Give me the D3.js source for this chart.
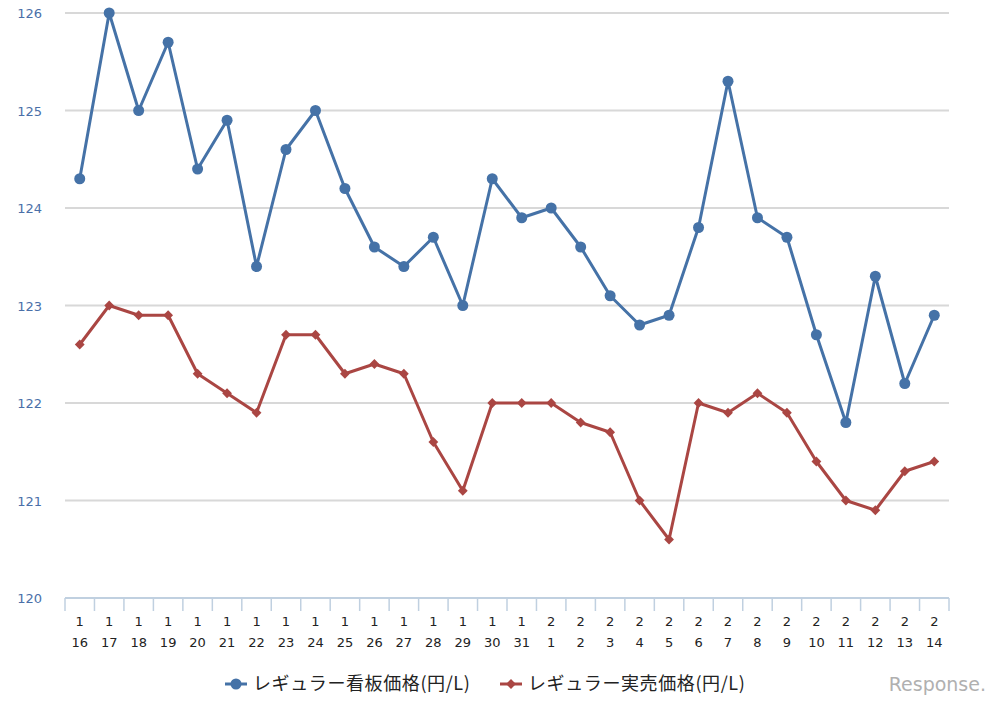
<!DOCTYPE html>
<html><head><meta charset="utf-8">
<script src="https://cdn.jsdelivr.net/npm/d3@7"></script>
<style>body{margin:0;background:#fff;}svg{display:block;}</style>
</head><body>
<svg id="chart" width="999" height="704"></svg>
<script>
const monthLabels = ["1","1","1","1","1","1","1","1","1","1","1","1","1","1","1","1","2","2","2","2","2","2","2","2","2","2","2","2","2","2"];
const dayLabels = ["16","17","18","19","20","21","22","23","24","25","26","27","28","29","30","31","1","2","3","4","5","6","7","8","9","10","11","12","13","14"];
const signPrice = [124.3,126.0,125.0,125.7,124.4,124.9,123.4,124.6,125.0,124.2,123.6,123.4,123.7,123.0,124.3,123.9,124.0,123.6,123.1,122.8,122.9,123.8,125.3,123.9,123.7,122.7,121.8,123.3,122.2,122.9];
const actualPrice = [122.6,123.0,122.9,122.9,122.3,122.1,121.9,122.7,122.7,122.3,122.4,122.3,121.6,121.1,122.0,122.0,122.0,121.8,121.7,121.0,120.6,122.0,121.9,122.1,121.9,121.4,121.0,120.9,121.3,121.4];
const yTicks = [120,121,122,123,124,125,126];
const seriesNames = ["レギュラー看板価格(円/L)","レギュラー実売価格(円/L)"];
const colors = ["#4572a7","#aa4643"];

(function(){
const svg = d3.select("#chart");
const pL = 65, pR = 949, pT = 13, pB = 598;
const idx = d3.range(dayLabels.length);
const x = d3.scaleBand().domain(idx).range([pL, pR]);
const y = d3.scaleLinear().domain([120,126]).range([pB, pT]);
const font = "'Noto Sans CJK JP','Noto Sans',sans-serif";
const numFont = "'DejaVu Sans', sans-serif";

svg.append("g").selectAll("line").data(yTicks.filter(d=>d>120)).join("line")
  .attr("x1", pL).attr("x2", pR)
  .attr("y1", d=>y(d)).attr("y2", d=>y(d))
  .attr("stroke", "#d8d8d8").attr("stroke-width", 2);

svg.append("g").selectAll("text").data(yTicks).join("text")
  .attr("x", 42).attr("y", d=>y(d)+5)
  .attr("text-anchor","end").attr("fill","#4a6fa8")
  .attr("font-family",numFont).attr("font-size",13)
  .text(d=>d);

svg.append("line").attr("x1",pL).attr("x2",pR).attr("y1",pB).attr("y2",pB)
  .attr("stroke","#c0d0e0").attr("stroke-width",2);
const bounds = idx.map(i=>x(i)).concat([pR]);
svg.append("g").selectAll("line").data(bounds).join("line")
  .attr("x1",d=>d).attr("x2",d=>d).attr("y1",pB).attr("y2",pB+13)
  .attr("stroke","#c0d0e0").attr("stroke-width",1.5);
const xl = svg.append("g").selectAll("g").data(idx).join("g")
  .attr("transform", i=>`translate(${x(i)+x.bandwidth()/2},0)`);
xl.append("text").attr("y",626).attr("text-anchor","middle")
  .attr("font-family",numFont).attr("font-size",13).attr("fill","#222")
  .text(i=>monthLabels[i]);
xl.append("text").attr("y",647).attr("text-anchor","middle")
  .attr("font-family",numFont).attr("font-size",13).attr("fill","#222")
  .text(i=>dayLabels[i]);

const cx = i => x(i)+x.bandwidth()/2;
const line = d3.line().x((d,i)=>cx(i)).y(d=>y(d));
[signPrice, actualPrice].forEach((data,k)=>{
  svg.append("path").datum(data).attr("d",line).attr("fill","none")
    .attr("stroke",colors[k]).attr("stroke-width",3).attr("stroke-linejoin","round");
});
svg.append("g").selectAll("circle").data(signPrice).join("circle")
  .attr("cx",(d,i)=>cx(i)).attr("cy",d=>y(d)).attr("r",5.5).attr("fill",colors[0]);
const sq = d3.symbol().type(d3.symbolSquare).size(48)();
svg.append("g").selectAll("path").data(actualPrice).join("path")
  .attr("d", sq).attr("transform",(d,i)=>`translate(${cx(i)},${y(d)}) rotate(45)`)
  .attr("fill",colors[1]);

const lg = svg.append("g");
const lx = [225, 500];
lx.forEach((px,k)=>{
  lg.append("line").attr("x1",px).attr("x2",px+22).attr("y1",684).attr("y2",684)
    .attr("stroke",colors[k]).attr("stroke-width",3);
  if(k===0) lg.append("circle").attr("cx",px+11).attr("cy",684).attr("r",5.5).attr("fill",colors[0]);
  else lg.append("path").attr("d", sq)
    .attr("transform",`translate(${px+11},684) rotate(45)`).attr("fill",colors[1]);
  lg.append("text").attr("x",px+28).attr("y",690).attr("font-family",font).attr("font-size",18)
    .attr("letter-spacing",0.6).attr("fill","#222").text(seriesNames[k]);
});

svg.append("text").attr("x",986).attr("y",691).attr("text-anchor","end")
  .attr("font-family","'DejaVu Sans', sans-serif").attr("font-size",19).attr("fill","#b0b0b0")
  .text("Response.");
})();
</script>
</body></html>
